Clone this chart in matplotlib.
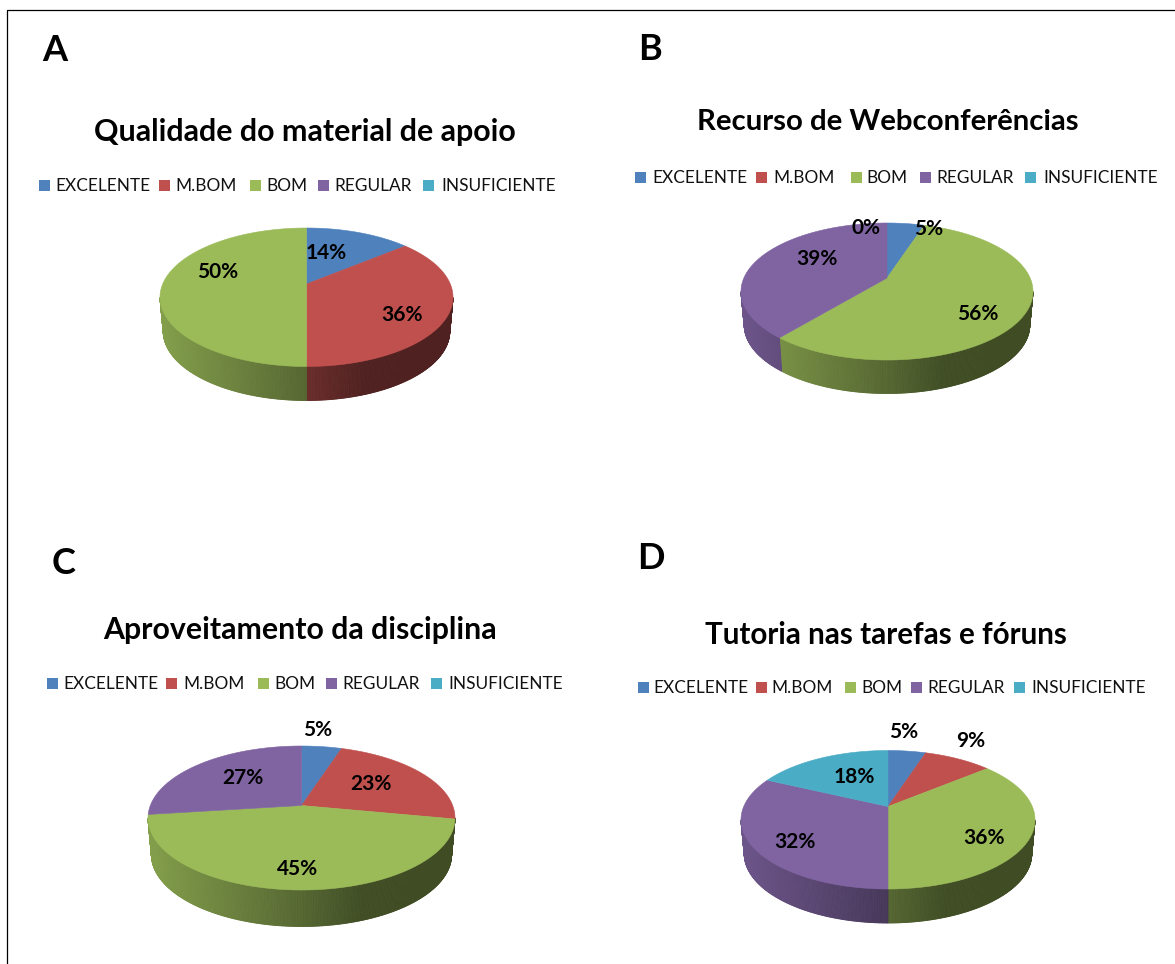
import numpy as np
import matplotlib
matplotlib.use('Agg')
import matplotlib.pyplot as plt
from matplotlib.collections import PolyCollection
from matplotlib.colors import to_rgb
from matplotlib.patches import Polygon, Rectangle

categories = ['EXCELENTE', 'M.BOM', 'BOM', 'REGULAR', 'INSUFICIENTE']
values_a = [14, 36, 50, 0, 0]
values_b = [5, 0, 56, 39, 0]
values_c = [5, 23, 45, 27, 0]
values_d = [5, 9, 36, 32, 18]
titles = ['Qualidade do material de apoio', 'Recurso de Webconferências',
          'Aproveitamento da disciplina', 'Tutoria nas tarefas e fóruns']
letters = ['A', 'B', 'C', 'D']
colors = ['#4F81BD', '#C0504D', '#9BBB59', '#8064A2', '#4BACC6']

# layout in image pixels
layouts = [
    dict(values=values_a, letter_xy=(55, 50.5), title_xy=(304.5, 132.5), title_size=21.9,
         swatch_x=[39, 159, 249.5, 318, 423], text_x=[55.5, 175, 266, 334.5, 441], legend_y=186,
         left=160, right=453, top=228, hub=284, front=366.5, bottom=400.5,
         labels={0: (326, 253), 1: (402, 315), 2: (218, 272)}),
    dict(values=values_b, letter_xy=(650, 49.5), title_xy=(888, 122), title_size=21.2,
         swatch_x=[635, 756, 850.5, 919.5, 1025], text_x=[652, 773, 866, 936, 1043.5], legend_y=178,
         left=741, right=1033, top=223, hub=278, front=360, bottom=393.5,
         labels={0: (929, 229), 1: (866, 228), 2: (978, 314), 3: (817, 259)}),
    dict(values=values_c, letter_xy=(64, 563.5), title_xy=(300, 629.5), title_size=21.8,
         swatch_x=[46.5, 166, 258, 326, 431], text_x=[63, 183, 274, 342.5, 448.5], legend_y=684,
         left=148, right=455, top=746, hub=805.5, front=890, bottom=926.5,
         labels={0: (318, 730), 1: (371, 784), 2: (298, 869), 3: (243, 778)}),
    dict(values=values_d, letter_xy=(651, 558.5), title_xy=(886, 634.5), title_size=21.35,
         swatch_x=[637.5, 755.5, 844.5, 911, 1014], text_x=[653, 771, 861, 927, 1031], legend_y=688,
         left=741, right=1035, top=750.5, hub=806.5, front=889, bottom=923,
         labels={0: (904, 732), 1: (971, 741), 2: (984, 838), 3: (795, 842), 4: (854, 777)}),
]


def wall_shade(t):
    # side of the pie goes dark from left to right, flat after about 70%
    return np.interp(t, [0, 0.5, 0.7, 1], [0.85, 0.55, 0.41, 0.41])


def draw_pie(ax, p):
    cx = (p['left'] + p['right']) / 2
    w = (p['right'] - p['left']) / 2
    back = p['hub'] - p['top']
    fwd = p['front'] - p['hub']
    k = (fwd - back) / (fwd + back)
    a = back * (1 + k)
    b = w * np.sqrt(1 - k ** 2)
    depth = p['bottom'] - p['front']

    # the pie is a circle seen with perspective, so the hub is not the ellipse centre
    def project(theta, scale=1.0):
        u, v = np.sin(theta), np.cos(theta)
        d = 1 + k * v
        return cx + scale * b * u / d, p['hub'] - a * v / d

    fractions = np.array(p['values'], dtype=float) / sum(p['values'])
    edges = np.concatenate([[0], np.cumsum(fractions)]) * 2 * np.pi

    # side wall, only the part in front of the left and right extremes
    for i, color in enumerate(colors):
        if fractions[i] == 0:
            continue
        th = np.arange(edges[i], edges[i + 1] + 0.004, 0.008)
        th = th[np.cos(th) < -k]
        if len(th) < 2:
            continue
        x0, y0 = project(th)
        x1, y1 = project(th, 0.978)
        y1 = y1 + depth
        quads = []
        cols = []
        base = np.array(to_rgb(color))
        for j in range(len(th) - 1):
            quads.append([(x0[j], y0[j]), (x0[j + 1], y0[j + 1]), (x1[j + 1], y1[j + 1]), (x1[j], y1[j])])
            t = (x0[j] - p['left']) / (2 * w)
            cols.append(base * wall_shade(t))
        ax.add_collection(PolyCollection(quads, facecolors=cols, edgecolors=cols, linewidths=0.6, zorder=2))

    # top face
    for i, color in enumerate(colors):
        if fractions[i] == 0:
            continue
        th = np.linspace(edges[i], edges[i + 1], 200)
        x, y = project(th)
        pts = [(cx, p['hub'])] + list(zip(x, y))
        ax.add_patch(Polygon(pts, closed=True, facecolor=color, edgecolor=color, linewidth=0.4, zorder=3))


plt.rcParams['font.family'] = ['Lato', 'DejaVu Sans']
fig = plt.figure(figsize=(11.75, 9.64), dpi=100)
ax = fig.add_axes([0, 0, 1, 1])
ax.set_xlim(0, 1175)
ax.set_ylim(964, 0)
ax.axis('off')

# frame of the original picture
ax.plot([6.5, 6.5, 1175], [964, 9.5, 9.5], color='black', lw=0.9, zorder=1)

for n, p in enumerate(layouts):
    draw_pie(ax, p)
    ax.text(*p['letter_xy'], letters[n], fontsize=26, fontweight='bold', ha='center', va='center', color='black')
    ax.text(*p['title_xy'], titles[n], fontsize=p['title_size'], fontweight='bold', ha='center', va='center', color='black')
    for i, name in enumerate(categories):
        ax.add_patch(Rectangle((p['swatch_x'][i], p['legend_y'] - 6.5), 11, 11, facecolor=colors[i], edgecolor='none'))
        ax.text(p['text_x'][i], p['legend_y'], name, fontsize=12.4, ha='left', va='center', color='#111111')
    for i, xy in p['labels'].items():
        ax.text(*xy, f"{p['values'][i]}%", fontsize=15, fontweight='bold', ha='center', va='center', color='black', zorder=5)

fig.savefig('out.png', dpi=100)
